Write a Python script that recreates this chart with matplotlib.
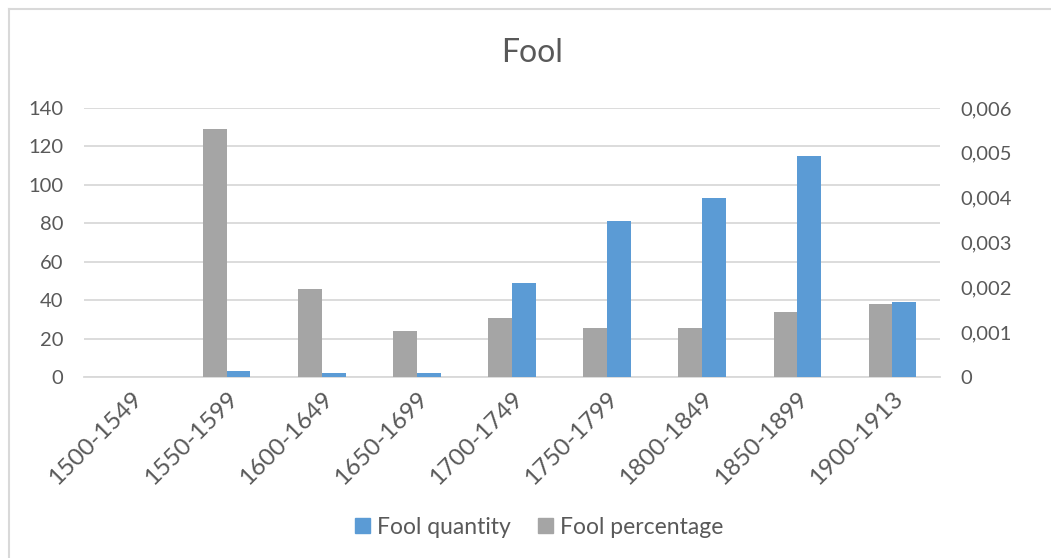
import numpy as np
import matplotlib
matplotlib.use("Agg")
import matplotlib.pyplot as plt
from matplotlib.ticker import FuncFormatter, MultipleLocator
from matplotlib.lines import Line2D
from matplotlib.patches import Patch

plt.rcParams['font.family'] = ['Lato', 'DejaVu Sans']

# data
periods = ["1500-1549", "1550-1599", "1600-1649", "1650-1699", "1700-1749",
           "1750-1799", "1800-1849", "1850-1899", "1900-1913"]
quantity = [0, 3, 2, 2, 49, 81, 93, 115, 39]
percentage = [0, 0.00554, 0.00197, 0.00103, 0.00132, 0.00109, 0.00109, 0.00144, 0.00162]

blue = "#5B9BD5"
gray = "#A5A5A5"
txt = "#595959"
grid = "#D9D9D9"

fig = plt.figure(figsize=(10.51, 5.58), dpi=100)
ax = fig.add_axes([0.0799, 0.3244, 0.8145, 0.4821])
ax2 = ax.twinx()

x = np.arange(len(periods))
w = 0.25
ax.bar(x + w / 2, quantity, width=w, color=blue, zorder=3)
ax2.bar(x - w / 2, percentage, width=w, color=gray, zorder=3)

ax.set_xlim(-0.5, len(periods) - 0.5)
ax.set_ylim(0, 140)
ax2.set_ylim(0, 0.006)
ax.yaxis.set_major_locator(MultipleLocator(20))
ax2.yaxis.set_major_locator(MultipleLocator(0.001))
ax2.yaxis.set_major_formatter(FuncFormatter(
    lambda v, p: "0" if abs(v) < 1e-12 else f"{v:.3f}".replace(".", ",")))

ax.grid(axis='y', color=grid, linewidth=1.3, zorder=0)
for a in (ax, ax2):
    for s in a.spines.values():
        s.set_visible(False)
    a.tick_params(length=0, labelsize=14.5, colors=txt)
ax.spines['bottom'].set_visible(True)
ax.spines['bottom'].set_color(grid)
ax.spines['bottom'].set_linewidth(1.3)
ax.tick_params(axis='y', pad=15)
ax2.tick_params(axis='y', pad=15)

ax.set_xticks(x)
ax.set_xticklabels(periods, rotation=45, ha='right', rotation_mode='anchor',
                   fontsize=17.5)
ax.tick_params(axis='x', pad=8)

fig.text(0.506, 0.905, "Fool", ha='center', va='center', fontsize=23, color=txt)

handles = [Patch(color=blue, label="Fool quantity"),
           Patch(color=gray, label="Fool percentage")]
fig.legend(handles=handles, loc='center', bbox_to_anchor=(0.513, 0.055), ncol=2,
           frameon=False, fontsize=16.5, labelcolor=txt, handlelength=0.65,
           handleheight=0.65, handletextpad=0.3, columnspacing=1.2)

# chart area border (cut at right and bottom)
fig.add_artist(Line2D([9 / 1051, 9 / 1051], [0, 1 - 9 / 558], color="#D9D9D9", lw=1.5))
fig.add_artist(Line2D([9 / 1051, 1], [1 - 9 / 558, 1 - 9 / 558], color="#D9D9D9", lw=1.5))

fig.savefig("out.png", dpi=100, facecolor="white")
